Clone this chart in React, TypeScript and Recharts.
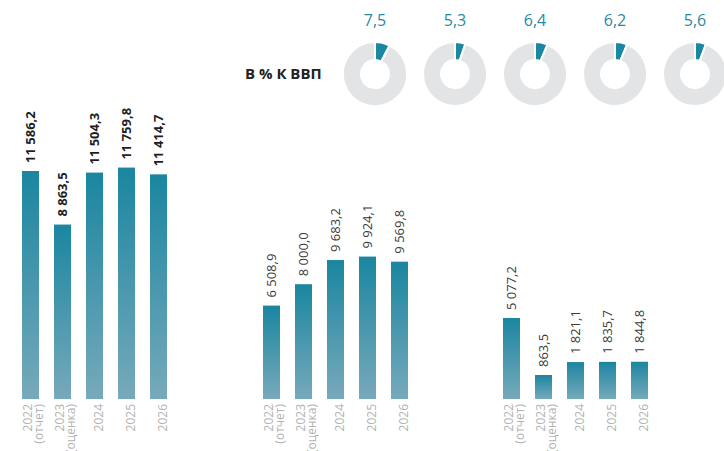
import React from 'react';
import { BarChart, Bar, XAxis, YAxis, LabelList, PieChart, Pie, Cell } from 'recharts';

const years = ['2022', '2023', '2024', '2025', '2026'];
const yearNotes = ['(отчет)', '(оценка)', '', '', ''];
const totalValues = [11586.2, 8863.5, 11504.3, 11759.8, 11414.7];
const secondValues = [6508.9, 8000.0, 9683.2, 9924.1, 9569.8];
const thirdValues = [5077.2, 863.5, 1821.1, 1835.7, 1844.8];
const gdpShare = [7.5, 5.3, 6.4, 6.2, 5.6];

const FONT = '"Open Sans", Arial, sans-serif';
const TEAL = '#1b87a1';

const fmt = (v: number) => {
  const [i, d] = v.toFixed(1).split('.');
  return i.replace(/\B(?=(\d{3})+(?!\d))/g, ' ') + ',' + d;
};

const YearTick = (props: any) => {
  const { x, payload } = props;
  const idx = payload.index ?? years.indexOf(payload.value);
  const note = yearNotes[idx];
  return (
    <g transform={`translate(${x},404)`}>
      <text transform="rotate(-90)" textAnchor="end" fontSize={12} fill="#b2b2b2" fontFamily={FONT}>
        {note ? (
          <>
            <tspan x={0} dy={1.5}>{payload.value}</tspan>
            <tspan x={0} dy={11.5}>{note}</tspan>
          </>
        ) : (
          <tspan x={0} dy={8.5}>{payload.value}</tspan>
        )}
      </text>
    </g>
  );
};

// bar drawn from its top down to the axis line
const GroundedBar = (props: any) => {
  const { x, y, width, fill, background } = props;
  const bottom = background ? background.y + background.height : props.y + props.height;
  return <rect x={x} y={y} width={width} height={Math.max(0, bottom - y)} fill={fill} />;
};

const makeLabel = (bold: boolean) => (props: any) => {
  const { x, y, width, value } = props;
  const cx = x + width / 2;
  const ty = y - 8;
  return (
    <text
      x={cx}
      y={ty}
      transform={`rotate(-90, ${cx}, ${ty})`}
      textAnchor="start"
      dominantBaseline="central"
      fontSize={13}
      fontWeight={bold ? 700 : 400}
      fill={bold ? '#1e1e1e' : '#3a3a3a'}
      fontFamily={FONT}
    >
      {fmt(value)}
    </text>
  );
};

interface GroupProps {
  id: string;
  values: number[];
  domain: [number, number];
  left: number;
  bold?: boolean;
}

const BarGroup: React.FC<GroupProps> = ({ id, values, domain, left, bold }) => {
  const data = years.map((y, i) => ({ year: y, value: values[i] }));
  return (
    <div style={{ position: 'absolute', left, top: 0 }}>
      <BarChart width={160} height={451} data={data} margin={{ top: 0, right: 0, left: 0, bottom: 0 }}>
        <defs>
          <linearGradient id={id} x1="0" y1="0" x2="0" y2="1">
            <stop offset="0%" stopColor="#1a86a0" />
            <stop offset="100%" stopColor="#77a9bb" />
          </linearGradient>
        </defs>
        <XAxis
          dataKey="year"
          axisLine={false}
          tickLine={false}
          height={52}
          interval={0}
          tick={<YearTick />}
        />
        <YAxis hide domain={domain} allowDataOverflow />
        <Bar dataKey="value" fill={`url(#${id})`} barSize={17} shape={<GroundedBar />} isAnimationActive={false}>
          <LabelList dataKey="value" content={makeLabel(!!bold)} />
        </Bar>
      </BarChart>
    </div>
  );
};

const Donut: React.FC<{ value: number; left: number }> = ({ value, left }) => {
  const data = [{ name: 'share', v: value }, { name: 'rest', v: 100 - value }];
  return (
    <div style={{ position: 'absolute', left, top: 0, width: 80, height: 110 }}>
      <div
        style={{
          position: 'absolute', left: 0, top: 10, width: 80, textAlign: 'center',
          fontFamily: FONT, fontSize: 16, color: '#2a8aa4', lineHeight: '20px',
        }}
      >
        {value.toFixed(1).replace('.', ',')}
      </div>
      <div style={{ position: 'absolute', left: 0, top: 0 }}>
        <PieChart width={80} height={110} margin={{ top: 0, right: 0, bottom: 0, left: 0 }}>
          <Pie
            data={data}
            dataKey="v"
            cx={40}
            cy={74}
            innerRadius={14}
            outerRadius={32}
            startAngle={90}
            endAngle={-270}
            stroke="#ffffff"
            strokeWidth={2}
            isAnimationActive={false}
          >
            <Cell fill={TEAL} />
            <Cell fill="#e3e4e6" />
          </Pie>
        </PieChart>
      </div>
    </div>
  );
};

export default function App() {
  return (
    <div style={{ position: 'absolute', left: 0, top: 0, width: 724, height: 451, overflow: 'hidden', background: '#fff' }}>
      <div
        style={{
          position: 'absolute', left: 245, top: 62, fontFamily: FONT, fontWeight: 700,
          fontSize: 15, color: '#222', lineHeight: '22px', whiteSpace: 'nowrap',
        }}
      >
        В % К ВВП
      </div>
      {gdpShare.map((v, i) => (
        <Donut key={i} value={v} left={335 + i * 80} />
      ))}
      <BarGroup id="gA" values={totalValues} domain={[0, 20274]} left={13.5} bold />
      <BarGroup id="gB" values={secondValues} domain={[0, 27805]} left={254.5} />
      <BarGroup id="gC" values={thirdValues} domain={[-909, 28581]} left={494.5} />
    </div>
  );
}
